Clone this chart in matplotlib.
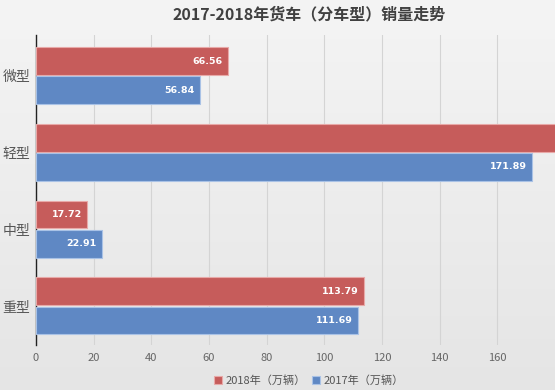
import numpy as np
import matplotlib.pyplot as plt

plt.rcParams['font.family'] = ['Noto Sans CJK SC', 'DejaVu Sans']

categories = ['微型', '轻型', '中型', '重型']
sales_2018 = [66.56, 189.58, 17.72, 113.79]   # 轻型 2018 is cut off in the picture
sales_2017 = [56.84, 171.89, 22.91, 111.69]
xticks = [0, 20, 40, 60, 80, 100, 120, 140, 160]

red = '#c65c5b'
blue = '#5f88c4'

fig = plt.figure(figsize=(5.55, 3.9), dpi=100)
fig.patch.set_facecolor('#e9e9e9')

# soft background gradient, lighter near the top
bg = fig.add_axes([0, 0, 1, 1], zorder=-10)
yy = np.linspace(0, 1, 100).reshape(-1, 1)
bg.imshow(0.955 - 0.06 * yy, cmap='gray', vmin=0, vmax=1, aspect='auto', extent=[0, 1, 0, 1])
bg.axis('off')

ax = fig.add_axes([36 / 555, 45 / 390, 1 - 36 / 555, 310 / 390])
ax.set_facecolor('none')

y = np.arange(len(categories))
h = 0.36
bars18 = ax.barh(y - h / 2 - 0.01, sales_2018, height=h, color=red, edgecolor='#e8a9a8', linewidth=0.8, label='2018年（万辆）', zorder=3)
bars17 = ax.barh(y + h / 2 + 0.01, sales_2017, height=h, color=blue, edgecolor='#a9c2e6', linewidth=0.8, label='2017年（万辆）', zorder=3)

ax.set_xlim(0, 180)
ax.set_ylim(3.51, -0.53)

for bars, vals in [(bars18, sales_2018), (bars17, sales_2017)]:
    for b, v in zip(bars, vals):
        if v < 178:
            ax.text(v - 1.8, b.get_y() + b.get_height() / 2, f'{v:.2f}', ha='right', va='center',
                    color='white', fontsize=6.8, fontweight='bold', family='DejaVu Sans', zorder=4)

ax.set_yticks(y)
ax.set_yticklabels(categories, fontsize=10, color='#555555')
ax.set_xticks(xticks)
ax.set_xticklabels([str(t) for t in xticks], fontsize=8, color='#666666')
ax.tick_params(axis='both', length=0, pad=6)
ax.tick_params(axis='y', pad=4)

ax.grid(axis='x', color='#d4d4d4', linewidth=0.8, zorder=0)
for s in ['top', 'right', 'bottom']:
    ax.spines[s].set_visible(False)
ax.spines['left'].set_color('#222222')
ax.spines['left'].set_linewidth(1.0)

fig.text(0.557, 0.962, '2017-2018年货车（分车型）销量走势', ha='center', va='center',
         fontsize=11.5, fontweight='bold', color='#404040')

fig.legend(loc='center', bbox_to_anchor=(0.557, 0.024), ncol=2, frameon=False,
           fontsize=8, handlelength=0.7, handleheight=0.7, handletextpad=0.3,
           columnspacing=0.6, labelcolor='#555555')

fig.savefig('out.png', dpi=100)
